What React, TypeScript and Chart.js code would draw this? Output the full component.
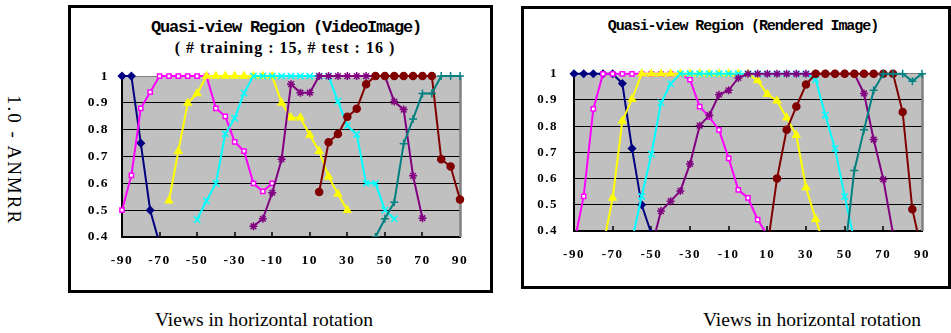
import React, { useEffect, useRef } from "react";
import { Chart, registerables } from "chart.js";
Chart.register(...registerables);

const _ = null;

// x categories (degrees), tick labels
const angles = [-90, -85, -80, -75, -70, -65, -60, -55, -50, -45, -40, -35, -30, -25, -20, -15, -10, -5, 0, 5, 10, 15, 20, 25, 30, 35, 40, 45, 50, 55, 60, 65, 70, 75, 80, 85, 90];
const xTicks = [-90, -70, -50, -30, -10, 10, 30, 50, 70, 90];
const yTicks = [0.4, 0.5, 0.6, 0.7, 0.8, 0.9, 1];

// ---------- Left panel: Video Image ----------
const navyL = [
  1, 1, 0.75, 0.5, 0.375, _, _, _, _, _,
  _, _, _, _, _, _, _, _, _, _,
  _, _, _, _, _, _, _, _, _, _,
  _, _, _, _, _, _, _];
const magentaL = [
  0.5, 0.63, 0.88, 0.94, 1, 1, 1, 1, 1, 1,
  0.88, 0.85, 0.755, 0.72, 0.6, 0.57, 0.6, _, _, _,
  _, _, _, _, _, _, _, _, _, _,
  _, _, _, _, _, _, _];
const yellowL = [
  _, _, _, _, _, 0.535, 0.72, 0.9, 0.935, 1,
  1, 1, 1, 1, 1, 1, 1, 0.9, 0.845, 0.845,
  0.78, 0.72, 0.625, 0.56, 0.5, _, _, _, _, _,
  _, _, _, _, _, _, _];
const cyanL = [
  _, _, _, _, _, _, _, _, 0.465, 0.535,
  0.6, 0.785, 0.843, 0.937, 1, 1, 1, 1, 1, 1,
  1, 1, 1, 0.906, 0.815, 0.783, 0.6, 0.6, 0.5, 0.468,
  _, _, _, _, _, _, _];
const purpleL = [
  _, _, _, _, _, _, _, _, _, _,
  _, _, _, _, 0.44, 0.468, 0.565, 0.69, 0.97, 0.938,
  0.938, 1, 1, 1, 1, 1, 1, 1, 1, 0.905,
  0.875, 0.628, 0.47, _, _, _, _];
const darkRedL = [
  _, _, _, _, _, _, _, _, _, _,
  _, _, _, _, _, _, _, _, _, _,
  _, 0.568, 0.753, 0.784, 0.848, 0.878, 0.97, 1, 1, 1,
  1, 1, 1, 1, 0.69, 0.663, 0.54];
const tealL = [
  _, _, _, _, _, _, _, _, _, _,
  _, _, _, _, _, _, _, _, _, _,
  _, _, _, _, _, _, _, 0.4, 0.468, 0.53,
  0.748, 0.84, 0.935, 0.935, 1, 1, 1];

// ---------- Right panel: Rendered Image ----------
const navyR = [
  1, 1, 1, 1, 1, 0.963, 0.715, 0.5, 0.39, _,
  _, _, _, _, _, _, _, _, _, _,
  _, _, _, _, _, _, _, _, _, _,
  _, _, _, _, _, _, _];
const magentaR = [
  0.35, 0.532, 0.866, 1, 1, 1, 1, 1, 1, 1,
  1, 1, 0.978, 0.875, 0.835, 0.786, 0.677, 0.557, 0.526, 0.443,
  0.385, _, _, _, _, _, _, _, _, _,
  _, _, _, _, _, _, _];
const yellowR = [
  _, _, _, 0.34, 0.526, 0.82, 0.903, 1, 1, 1,
  1, 1, 1, 1, 1, 1, 1, 1, 1, 0.974,
  0.922, 0.897, 0.832, 0.765, 0.566, 0.445, 0.33, _, _, _,
  _, _, _, _, _, _, _];
const cyanR = [
  _, _, _, _, _, _, 0.363, 0.532, 0.693, 0.889,
  0.962, 1, 1, 1, 1, 1, 1, 1, 1, 1,
  1, 1, 1, 1, 1, 0.978, 0.842, 0.715, 0.532, 0.363,
  _, _, _, _, _, _, _];
const purpleR = [
  _, _, _, _, _, _, _, _, 0.335, 0.476,
  0.514, 0.553, 0.656, 0.802, 0.842, 0.92, 0.937, 0.984, 1, 1,
  1, 1, 1, 1, 1, 1, 1, 1, 1, 1,
  0.925, 0.749, 0.597, 0.39, _, _, _];
const darkRedR = [
  _, _, _, _, _, _, _, _, _, _,
  _, _, _, _, _, _, _, _, _, _,
  0.337, 0.6, 0.786, 0.875, 0.959, 1, 1, 1, 1, 1,
  1, 1, 1, 1, 0.854, 0.483, 0.32];
const tealR = [
  _, _, _, _, _, _, _, _, _, _,
  _, _, _, _, _, _, _, _, _, _,
  _, _, _, _, _, _, _, _, 0.31, 0.631,
  0.786, 0.937, 1, 1, 1, 0.972, 1];

const seriesColors = ["#000080", "#FF00FF", "#FFFF00", "#00FFFF", "#800080", "#800000", "#008080"];
const seriesFills = ["#000080", "#FFFFFF", "#FFFF00", "#00FFFF", "#800080", "#800000", "#008080"];
const seriesMarkers = ["rectRot", "rect", "triangle", "crossRot", "star", "circle", "cross"];
const seriesRadius = [3.5, 3, 4, 4.5, 4, 3.5, 4];

const leftSeries = [navyL, magentaL, yellowL, cyanL, purpleL, darkRedL, tealL];
const rightSeries = [navyR, magentaR, yellowR, cyanR, purpleR, darkRedR, tealR];

const plotPlugin = {
  id: "plotDeco",
  beforeUpdate(chart: any) {
    chart.ctx.letterSpacing = chart.options.plugins.plotDeco.spacing;
  },
  beforeDraw(chart: any) {
    const { ctx, chartArea: a } = chart;
    ctx.letterSpacing = chart.options.plugins.plotDeco.spacing;
    ctx.save();
    ctx.fillStyle = "#C0C0C0";
    ctx.fillRect(a.left, a.top, a.right - a.left, a.bottom - a.top);
    ctx.restore();
  },
  beforeDatasetsDraw(chart: any) {
    const { ctx, chartArea: a } = chart;
    ctx.save();
    ctx.strokeStyle = "#808080";
    ctx.lineWidth = 2.5;
    ctx.beginPath();
    ctx.moveTo(a.right + 0.5, a.top);
    ctx.lineTo(a.right + 0.5, a.bottom);
    ctx.stroke();
    const xs = chart.scales.x;
    ctx.strokeStyle = "#000000";
    ctx.lineWidth = 1.5;
    xs.ticks.forEach((t: any) => {
      const px = Math.round(xs.getPixelForValue(t.value));
      if (px <= a.left + 2 || px >= a.right - 2) return;
      ctx.beginPath();
      ctx.moveTo(px, a.bottom);
      ctx.lineTo(px, a.bottom - 5);
      ctx.stroke();
    });
    ctx.restore();
  },
};

type PanelCfg = {
  left: number; top: number; width: number; height: number;
  series: (number | null)[][];
  fontSize: number; padTop: number; padRight: number;
  yWidth: number; xHeight: number; yPad: number; xPad: number;
  spacing: string;
};

function Panel(p: PanelCfg) {
  const ref = useRef<HTMLCanvasElement | null>(null);
  useEffect(() => {
    if (!ref.current) return;
    const n = p.series.length;
    const font = { family: "'Liberation Serif', 'Times New Roman', serif", weight: "bold" as const, size: p.fontSize };
    const chart = new Chart(ref.current, {
      type: "line",
      data: {
        datasets: p.series.map((vals, i) => ({
          data: angles
            .map((a, j) => ({ x: a, y: vals[j] as number }))
            .filter((pt) => pt.y !== null),
          borderColor: seriesColors[i],
          backgroundColor: seriesColors[i],
          pointBackgroundColor: seriesFills[i],
          pointBorderColor: seriesColors[i],
          pointStyle: seriesMarkers[i] as any,
          pointRadius: seriesRadius[i],
          pointBorderWidth: 1.5,
          borderWidth: 2,
          tension: 0,
          fill: false,
          clip: { left: 10, top: 10, right: 10, bottom: 0 } as any,
          order: n - i,
        })),
      },
      options: {
        responsive: false,
        maintainAspectRatio: false,
        animation: false,
        events: [],
        layout: { padding: { left: 0, top: p.padTop, right: p.padRight, bottom: 0 } },
        plugins: {
          legend: { display: false },
          tooltip: { enabled: false },
          title: { display: false },
          plotDeco: { spacing: p.spacing },
        } as any,
        scales: {
          x: {
            type: "linear",
            min: -90,
            max: 90,
            afterBuildTicks: (s: any) => { s.ticks = xTicks.map((v) => ({ value: v })); },
            afterFit: (s: any) => { s.height = p.xHeight; },
            grid: { drawOnChartArea: false, drawTicks: false },
            border: { display: true, color: "#000000", width: 2 },
            ticks: { font, color: "#000000", padding: p.xPad, maxRotation: 0, autoSkip: false },
          },
          y: {
            type: "linear",
            min: 0.4,
            max: 1,
            afterBuildTicks: (s: any) => { s.ticks = yTicks.map((v) => ({ value: v })); },
            afterFit: (s: any) => { s.width = p.yWidth; },
            grid: {
              drawTicks: false,
              lineWidth: 1,
              color: (c: any) => (c.tick && Math.abs(c.tick.value - 1) < 1e-6 ? "#808080" : "#000000"),
            },
            border: { display: true, color: "#000000", width: 2 },
            ticks: {
              font,
              color: "#000000",
              padding: p.yPad,
              callback: (v: any) => (Math.abs(v - 1) < 1e-6 ? "1" : Number(v).toFixed(1)),
            },
          },
        },
      },
      plugins: [plotPlugin as any],
    });
    return () => chart.destroy();
  }, []);
  return (
    <canvas
      ref={ref}
      width={p.width}
      height={p.height}
      style={{ position: "absolute", left: p.left, top: p.top, width: p.width, height: p.height }}
    />
  );
}

const serif = "'Liberation Serif', 'Times New Roman', serif";
const mono = "'Liberation Mono', 'Courier New', monospace";

export default function App() {
  return (
    <div style={{ position: "absolute", left: 0, top: 0, width: 951, height: 333, background: "#FFFFFF", overflow: "hidden" }}>
      {/* boxes */}
      <div style={{ position: "absolute", left: 68, top: 5, width: 425, height: 288, border: "3px solid #000", boxSizing: "border-box" }} />
      <div style={{ position: "absolute", left: 521, top: 6, width: 430, height: 283, border: "3px solid #000", boxSizing: "border-box" }} />

      {/* y axis title */}
      <div style={{ position: "absolute", left: 14, top: 160, transform: "translate(-50%,-50%) rotate(90deg)", fontFamily: serif, fontSize: 19, letterSpacing: "2px", whiteSpace: "nowrap", lineHeight: 1 }}>
        1.0 - ANMRR
      </div>

      {/* left titles */}
      <div style={{ position: "absolute", left: 286, top: 19.3, transform: "translateX(-50%)", fontFamily: mono, fontWeight: "bold", fontSize: 17, letterSpacing: "-1.2px", whiteSpace: "nowrap", lineHeight: 1 }}>
        Quasi-view Region (VideoImage)
      </div>
      <div style={{ position: "absolute", left: 285, top: 40, transform: "translateX(-50%)", fontFamily: serif, fontWeight: "bold", fontSize: 16, letterSpacing: "1px", whiteSpace: "nowrap", lineHeight: 1 }}>
        ( # training : 15, # test : 16 )
      </div>

      {/* right title */}
      <div style={{ position: "absolute", left: 743, top: 18.8, transform: "translateX(-50%)", fontFamily: mono, fontWeight: "bold", fontSize: 15, letterSpacing: "-1.05px", whiteSpace: "nowrap", lineHeight: 1 }}>
        Quasi-view Region (Rendered Image)
      </div>

      <Panel left={75} top={55} width={410} height={225} series={leftSeries}
        fontSize={13.5} padTop={16} padRight={25} yWidth={47} xHeight={43} yPad={13} xPad={15} spacing="1.5px" />
      <Panel left={527} top={50} width={420} height={225} series={rightSeries}
        fontSize={13} padTop={19} padRight={25} yWidth={47} xHeight={44} yPad={16} xPad={16} spacing="1.5px" />

      {/* captions */}
      <div style={{ position: "absolute", left: 264, top: 310.4, transform: "translateX(-50%)", fontFamily: serif, fontSize: 19.5, whiteSpace: "nowrap", lineHeight: 1 }}>
        Views in horizontal rotation
      </div>
      <div style={{ position: "absolute", left: 812, top: 310.4, transform: "translateX(-50%)", fontFamily: serif, fontSize: 19.5, whiteSpace: "nowrap", lineHeight: 1 }}>
        Views in horizontal rotation
      </div>
    </div>
  );
}
